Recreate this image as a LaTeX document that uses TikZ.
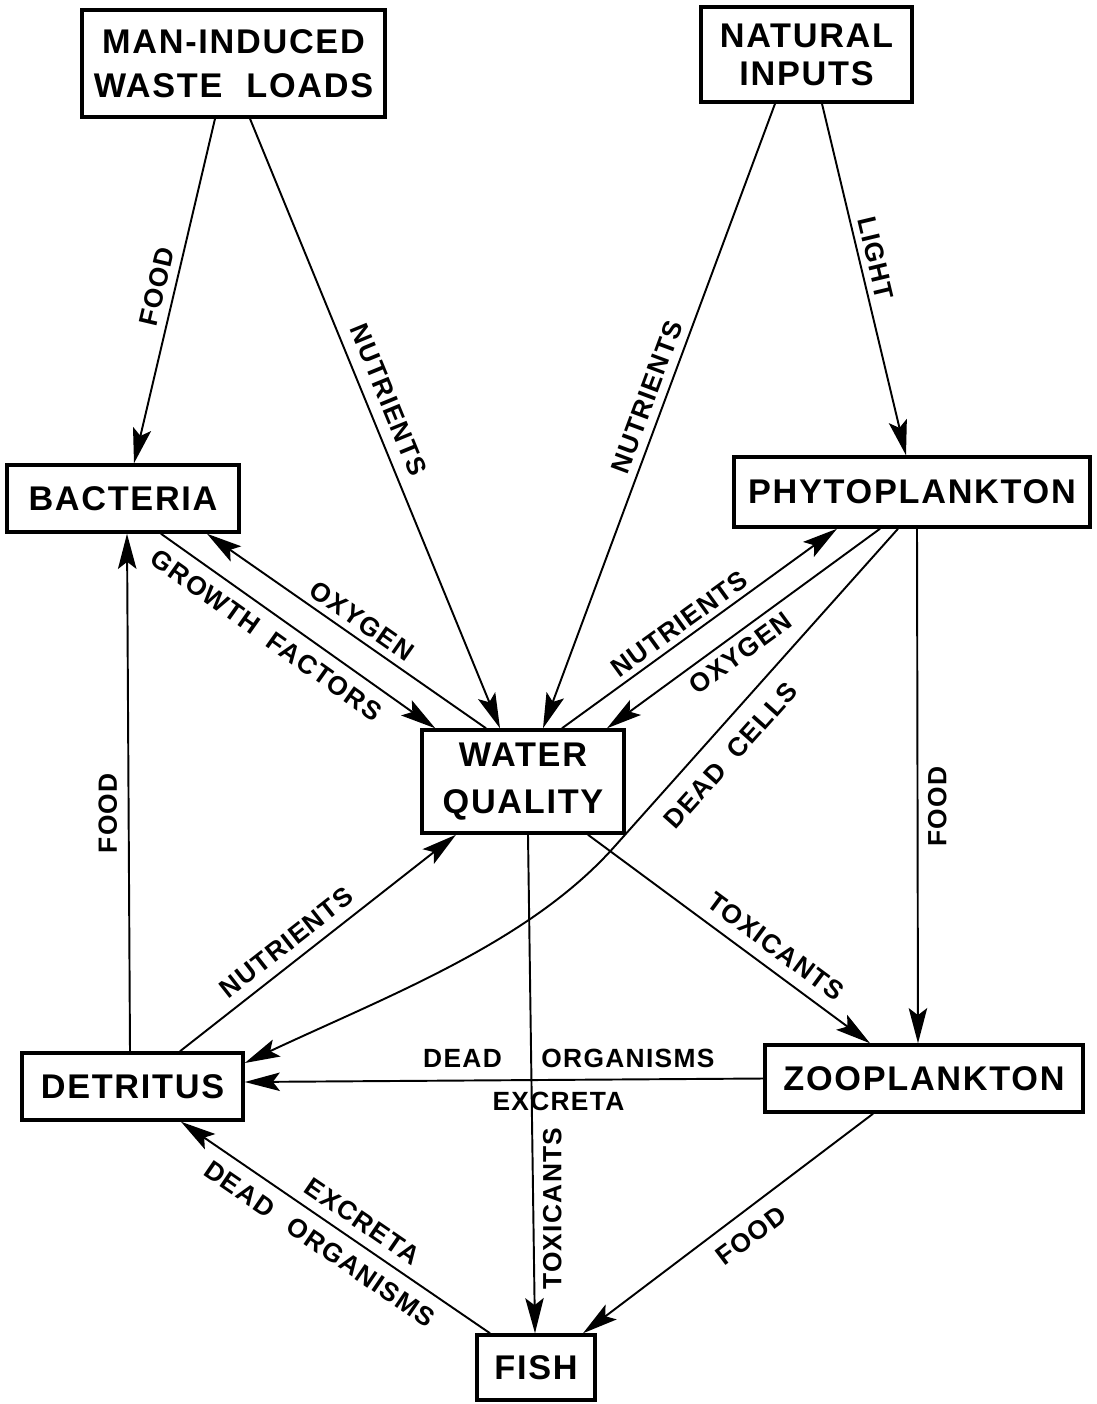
\documentclass[tikz,border=0pt]{standalone}
\usepackage{fontspec}
\setmainfont{Liberation Sans}
\newfontfamily\stencil[LetterSpace=5]{Liberation Sans}
\usetikzlibrary{arrows.meta, calc}

\tikzset{
  box/.style={draw, line width=2pt, inner sep=0pt, align=center,
    font=\stencil\bfseries\fontsize{19.5}{25}\selectfont},
  link/.style={line width=1.1pt, -{Stealth[length=20pt, width=10.5pt, inset=4pt]}},
  tag/.style={inner sep=0pt, font=\stencil\bfseries\fontsize{15}{18}\selectfont}
}

\begin{document}
\begin{tikzpicture}[x=0.02cm, y=-0.02cm]
\useasboundingbox (0,0) rectangle (1097,1404);

% Sources
\node[box, minimum width=6.06cm, minimum height=2.14cm] (waste) at (233.5,63.5) {MAN-INDUCED\\WASTE\hspace{0.7em}LOADS};
\node[box, minimum width=4.22cm, minimum height=1.9cm, font=\stencil\bfseries\fontsize{19.5}{21.5}\selectfont] (natural) at (806.5,54.5) {NATURAL\\INPUTS};

% Compartments
\node[box, minimum width=4.64cm, minimum height=1.34cm] (bact) at (123,498.5) {BACTERIA};
\node[box, minimum width=7.12cm, minimum height=1.4cm] (phyto) at (912,492) {PHYTOPLANKTON};
\node[box, minimum width=4.04cm, minimum height=2.06cm, font=\stencil\bfseries\fontsize{19.5}{26.5}\selectfont] (water) at (523,781.5) {WATER\\QUALITY};
\node[box, minimum width=4.42cm, minimum height=1.34cm] (detr) at (132.5,1086.5) {DETRITUS};
\node[box, minimum width=6.36cm, minimum height=1.34cm] (zoo) at (924,1078.5) {ZOOPLANKTON};
\node[box, minimum width=2.36cm, minimum height=1.3cm] (fish) at (536,1367.5) {FISH};

% From the waste loads
\draw[link] ($(waste.south)+(-18.5,0)$) -- node[tag, sloped, above, outer sep=5pt] {FOOD} ($(bact.north)+(11,0)$);
\draw[link] ($(waste.south)+(16.5,0)$) -- node[tag, sloped, above, pos=0.475, outer sep=7pt] {NUTRIENTS} ($(water.north)+(-23,0)$);

% From the natural inputs
\draw[link] ($(natural.south)+(-31.5,0)$) -- node[tag, sloped, above, pos=0.48, outer sep=5pt] {NUTRIENTS} ($(water.north)+(20,0)$);
\draw[link] ($(natural.south)+(15.5,0)$) -- node[tag, sloped, above, pos=0.45, outer sep=4pt] {LIGHT} ($(phyto.north)+(-6,0)$);

% Bacteria and water quality
\draw[link] ($(water.north)+(-37,0)$) -- node[tag, sloped, above, pos=0.48, outer sep=4.5pt] {OXYGEN} ($(bact.south)+(84,0)$);
\draw[link] ($(bact.south)+(38,0)$) -- node[tag, sloped, below, pos=0.43, outer sep=7pt] {GROWTH\hspace{0.6em}FACTORS} ($(water.north west)+(15,0)$);

% Phytoplankton and water quality
\draw[link] ($(water.north)+(39,0)$) -- node[tag, sloped, above, pos=0.46, outer sep=3.5pt] {NUTRIENTS} ($(phyto.south)+(-75,0)$);
\draw[link] ($(phyto.south)+(-32,0)$) -- node[tag, sloped, below, pos=0.55, outer sep=5pt] {OXYGEN} ($(water.north)+(84,0)$);
\coordinate (bend) at (615,846);
\draw[link] ($(phyto.south)+(-14,0)$) -- node[tag, sloped, below, pos=0.66, outer sep=9.5pt] {DEAD\hspace{0.6em}CELLS} (bend) .. controls (530,942) and (390,995) .. ($(detr.east)+(0,-23.5)$);
\draw[link] ($(phyto.south)+(5,0)$) -- node[tag, pos=0.54, rotate=90, anchor=north, outer sep=6pt] {FOOD} ($(zoo.north)+(-6,0)$);

% Detritus
\draw[link] ($(detr.north)+(-2.5,0)$) -- node[tag, pos=0.46, rotate=90, anchor=south, outer sep=6.5pt] {FOOD} ($(bact.south)+(4,0)$);
\draw[link] ($(detr.north)+(47.5,0)$) -- node[tag, sloped, above, pos=0.43, outer sep=6pt] {NUTRIENTS} ($(water.south)+(-67,0)$);

% Toxicants
\draw[link] ($(water.south)+(5,0)$) -- node[tag, pos=0.75, rotate=90, anchor=north, outer sep=5.5pt] {TOXICANTS} ($(fish.north)+(-1,0)$);
\draw[link] ($(water.south)+(65,0)$) -- node[tag, sloped, above, pos=0.62, outer sep=7pt] {TOXICANTS} ($(zoo.north)+(-54,0)$);

% Consumers
\draw[link] (zoo.west) -- node[tag, above, pos=0.375, outer sep=7pt] {DEAD\hspace{1.5em}ORGANISMS} node[tag, below, pos=0.395, outer sep=7pt] {EXCRETA} ($(detr.east)+(0,-4.5)$);
\draw[link] ($(fish.north)+(-46,0)$) -- node[tag, sloped, above, pos=0.45, outer sep=6.3pt] {EXCRETA} node[tag, sloped, below, pos=0.51, outer sep=7.5pt] {DEAD\hspace{0.8em}ORGANISMS} ($(detr.south)+(48.5,0)$);
\draw[link] ($(zoo.south)+(-51,0)$) -- node[tag, sloped, below, pos=0.47, outer sep=8pt] {FOOD} ($(fish.north)+(47,0)$);

\end{tikzpicture}
\end{document}
